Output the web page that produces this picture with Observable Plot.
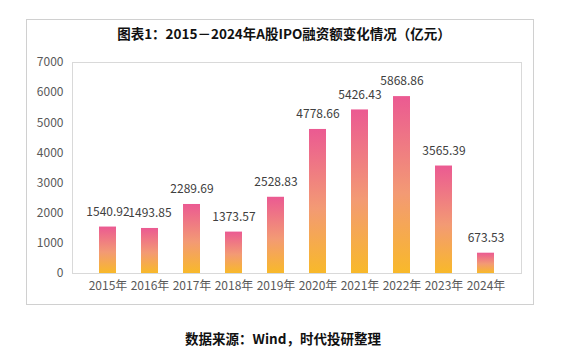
<!DOCTYPE html>
<html><head><meta charset="utf-8">
<script src="https://cdn.jsdelivr.net/npm/d3@7"></script>
<script src="https://cdn.jsdelivr.net/npm/@observablehq/plot@0.6"></script>
<style>
body{margin:0;background:#fff;font-family:"Noto Sans CJK SC","Noto Sans",sans-serif;}
#wrap{position:relative;width:566px;height:362px;}
#box{position:absolute;left:26px;top:19px;width:508px;height:286px;border:1px solid #d0d0d0;box-sizing:border-box;}
#title{position:relative;height:50px;line-height:28px;padding-top:19px;box-sizing:border-box;text-align:center;font-size:13.5px;font-weight:bold;color:#111;padding-left:2px;}
#caption{position:relative;height:56px;line-height:64px;text-align:center;font-size:13.5px;font-weight:bold;color:#111;}
svg{display:block;}
</style></head>
<body>
<div id="wrap">
<div id="box"></div>
<div id="title">图表1：2015－2024年A股IPO融资额变化情况（亿元）</div>
<div id="chart"></div>
<div id="caption">数据来源：Wind，时代投研整理</div>
</div>
<script>
const years = ["2015年","2016年","2017年","2018年","2019年","2020年","2021年","2022年","2023年","2024年"];
const amounts = [1540.92,1493.85,2289.69,1373.57,2528.83,4778.66,5426.43,5868.86,3565.39,673.53];
const yTicks = [0,1000,2000,3000,4000,5000,6000,7000];

const data = years.map((y,i)=>({year:y, value:amounts[i]}));

const chart = Plot.plot({
  width:566, height:256,
  marginLeft:72, marginRight:45, marginTop:12, marginBottom:33,
  style:{fontFamily:'"Noto Sans CJK SC","Noto Sans",sans-serif', fontSize:"12px", color:"#595959", background:"transparent"},
  x:{domain:years, padding:0.6, label:null, tickSize:0, tickPadding:8},
  y:{domain:[0,7000], ticks:yTicks, label:null, tickSize:0, tickPadding:9, tickFormat:d=>String(d)},
  marks:[
    Plot.frame({stroke:"#d9d9d9"}),
    Plot.barY(data,{x:"year", y:"value", fill:"url(#barGrad)"}),
    Plot.text(data,{x:"year", y:"value", text:d=>d.value.toFixed(2), dy:-15, fill:"#404040", fontSize:12})
  ]
});
const svg = d3.select(chart);
const g = svg.insert("defs",":first-child").append("linearGradient")
  .attr("id","barGrad").attr("x1",0).attr("y1",0).attr("x2",0).attr("y2",1);
g.append("stop").attr("offset","0%").attr("stop-color","#eb5a92");
g.append("stop").attr("offset","55%").attr("stop-color","#f39a74");
g.append("stop").attr("offset","100%").attr("stop-color","#f8b92a");
document.getElementById("chart").appendChild(chart);
</script>
</body></html>
